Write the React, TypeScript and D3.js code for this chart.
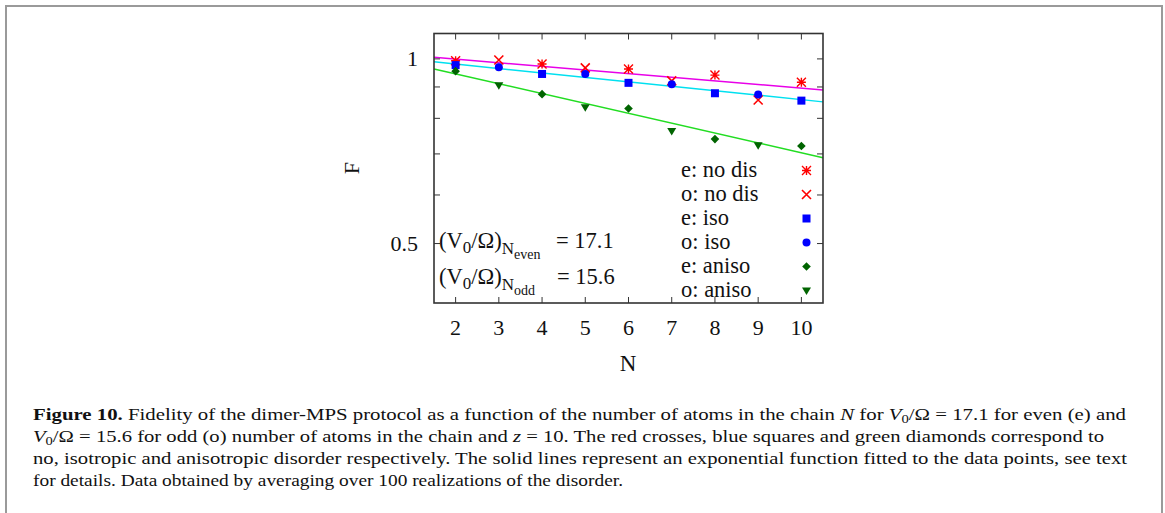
import React, { useEffect, useRef } from 'react';
import * as d3 from 'd3';

// chain lengths
const nEven = [2, 4, 6, 8, 10];
const nOdd = [3, 5, 7, 9];

// fidelity
const eNoDis = [0.993, 0.981, 0.963, 0.941, 0.916];
const oNoDis = [0.996, 0.967, 0.921, 0.857];
const eIso = [0.977, 0.945, 0.914, 0.879, 0.855];
const oIso = [0.969, 0.945, 0.909, 0.875];
const eAniso = [0.955, 0.876, 0.83, 0.74, 0.721];
const oAniso = [0.906, 0.834, 0.763, 0.723];

// exponential fits (straight on the log axis), values at the axis ends
const fitN = [1.5, 10.5];
const fitNoDis = [1.006, 0.89];
const fitIso = [0.989, 0.851];
const fitAniso = [0.963, 0.69];

const xTicks = [2, 3, 4, 5, 6, 7, 8, 9, 10];
const yTicks = [0.5, 0.6, 0.7, 0.8, 0.9, 1];
const yTickLabels = ['0.5', '', '', '', '', '1'];

const legendLabels = ['e: no dis', 'o: no dis', 'e: iso', 'o: iso', 'e: aniso', 'o: aniso'];

const RED = '#ff0000';
const BLUE = '#0000ff';
const DGREEN = '#006400';

export default function App() {
  const svgRef = useRef<SVGSVGElement>(null);

  useEffect(() => {
    if (!svgRef.current) return;
    const svg = d3.select(svgRef.current);
    svg.selectAll('*').remove();

    const serif = 'Liberation Serif';
    const left = 434, right = 823, top = 33.5, bottom = 303;

    const x = d3.scaleLinear().domain([1.5, 10.5]).range([left, right]);
    const y = d3.scaleLog().domain([0.4, 1.1]).range([bottom, top]);

    // outer figure box
    svg.append('rect').attr('x', 6).attr('y', 6).attr('width', 1156).attr('height', 540)
      .attr('fill', 'none').attr('stroke', '#9a9a9a').attr('stroke-width', 2);

    // fit lines
    const line = d3.line<[number, number]>().x(d => x(d[0])).y(d => y(d[1]));
    const fits = [
      { vals: fitNoDis, color: '#e800e8' },
      { vals: fitIso, color: '#00e0f0' },
      { vals: fitAniso, color: '#22dd22' },
    ];
    fits.forEach(f => {
      svg.append('path')
        .attr('d', line(fitN.map((n, i) => [n, f.vals[i]] as [number, number])))
        .attr('fill', 'none').attr('stroke', f.color).attr('stroke-width', 1.5);
    });

    // ticks (inward, mirrored)
    const tk = 6;
    xTicks.forEach(t => {
      svg.append('line').attr('x1', x(t)).attr('x2', x(t)).attr('y1', bottom).attr('y2', bottom - tk)
        .attr('stroke', '#333').attr('stroke-width', 1);
      svg.append('line').attr('x1', x(t)).attr('x2', x(t)).attr('y1', top).attr('y2', top + tk)
        .attr('stroke', '#333').attr('stroke-width', 1);
      svg.append('text').attr('x', x(t)).attr('y', 335).attr('text-anchor', 'middle')
        .style('font-family', serif).attr('font-size', 22).attr('fill', '#111').text(String(t));
    });
    yTicks.forEach((t, i) => {
      svg.append('line').attr('x1', left).attr('x2', left + tk).attr('y1', y(t)).attr('y2', y(t))
        .attr('stroke', '#333').attr('stroke-width', 1);
      svg.append('line').attr('x1', right).attr('x2', right - tk).attr('y1', y(t)).attr('y2', y(t))
        .attr('stroke', '#333').attr('stroke-width', 1);
      if (yTickLabels[i]) {
        svg.append('text').attr('x', 418).attr('y', y(t) + 7.5).attr('text-anchor', 'end')
          .style('font-family', serif).attr('font-size', 22).attr('fill', '#111').text(yTickLabels[i]);
      }
    });

    // frame
    svg.append('rect').attr('x', left).attr('y', top).attr('width', right - left).attr('height', bottom - top)
      .attr('fill', 'none').attr('stroke', '#333').attr('stroke-width', 1.6);

    // axis titles
    svg.append('text').attr('x', 628).attr('y', 371).attr('text-anchor', 'middle')
      .style('font-family', serif).attr('font-size', 23).attr('fill', '#111').text('N');
    svg.append('text').attr('transform', 'translate(359,168) rotate(-90)').attr('text-anchor', 'middle')
      .style('font-family', serif).attr('font-size', 22).attr('fill', '#111').text('F');

    // markers
    const marker = (type: string, cx: number, cy: number, color: string) => {
      const g = svg.append('g').attr('transform', `translate(${cx},${cy})`);
      if (type === 'star') {
        const s = 4.5;
        g.append('path').attr('d', `M${-s},0H${s}M0,${-s}V${s}M${-s},${-s}L${s},${s}M${-s},${s}L${s},${-s}`)
          .attr('stroke', color).attr('stroke-width', 1.4);
      } else if (type === 'cross') {
        const s = 4.5;
        g.append('path').attr('d', `M${-s},${-s}L${s},${s}M${-s},${s}L${s},${-s}`)
          .attr('stroke', color).attr('stroke-width', 1.6);
      } else if (type === 'square') {
        g.append('rect').attr('x', -4).attr('y', -4).attr('width', 8).attr('height', 8).attr('fill', color);
      } else if (type === 'circle') {
        g.append('circle').attr('r', 4).attr('fill', color);
      } else if (type === 'diamond') {
        g.append('path').attr('d', 'M0,-4.3L4.3,0L0,4.3L-4.3,0Z').attr('fill', color);
      } else if (type === 'tri') {
        g.append('path').attr('d', 'M-4.5,-3L4.5,-3L0,4.5Z').attr('fill', color);
      }
    };

    const series = [
      { ns: nEven, vals: eNoDis, type: 'star', color: RED },
      { ns: nOdd, vals: oNoDis, type: 'cross', color: RED },
      { ns: nEven, vals: eIso, type: 'square', color: BLUE },
      { ns: nOdd, vals: oIso, type: 'circle', color: BLUE },
      { ns: nEven, vals: eAniso, type: 'diamond', color: DGREEN },
      { ns: nOdd, vals: oAniso, type: 'tri', color: DGREEN },
    ];
    series.forEach(s => {
      s.ns.forEach((n, i) => marker(s.type, x(n), y(s.vals[i]), s.color));
    });

    // legend
    series.forEach((s, i) => {
      const by = 177 + i * 24;
      svg.append('text').attr('x', 681).attr('y', by).style('font-family', serif).attr('font-size', 22.5)
        .attr('fill', '#111').text(legendLabels[i]);
      marker(s.type, 806.5, by - 6.5, s.color);
    });

    // annotation
    const ann = (by: number, sub: string, val: string, eqX: number) => {
      const t = svg.append('text').attr('x', 439).attr('y', by).style('font-family', serif)
        .attr('font-size', 22.5).attr('fill', '#111');
      t.append('tspan').text('(V');
      t.append('tspan').attr('dy', 5).attr('font-size', 17).text('0');
      t.append('tspan').attr('dy', -5).text('/Ω)');
      t.append('tspan').attr('dy', 6).attr('font-size', 17).text('N');
      t.append('tspan').attr('dy', 5).attr('font-size', 14).text(sub);
      svg.append('text').attr('x', eqX).attr('y', by).style('font-family', serif)
        .attr('font-size', 22.5).attr('fill', '#111').text(val);
    };
    ann(248, 'even', '= 17.1', 556);
    ann(284, 'odd', '= 15.6', 557);

    // caption
    const capX = 33;
    const cap = (by: number, len: number) =>
      svg.append('text').attr('x', capX).attr('y', by).style('font-family', serif).attr('font-size', 17)
        .attr('fill', '#111').attr('textLength', len).attr('lengthAdjust', 'spacingAndGlyphs');

    const l1 = cap(420, 1093);
    l1.append('tspan').attr('font-weight', 'bold').text('Figure 10.');
    l1.append('tspan').text(' Fidelity of the dimer-MPS protocol as a function of the number of atoms in the chain ');
    l1.append('tspan').attr('font-style', 'italic').text('N');
    l1.append('tspan').text(' for ');
    l1.append('tspan').attr('font-style', 'italic').text('V');
    l1.append('tspan').attr('dy', 3).attr('font-size', 12).text('0');
    l1.append('tspan').attr('dy', -3).text('/Ω = 17.1 for even (e) and');

    const l2 = cap(442, 1071);
    l2.append('tspan').attr('font-style', 'italic').text('V');
    l2.append('tspan').attr('dy', 3).attr('font-size', 12).text('0');
    l2.append('tspan').attr('dy', -3).text('/Ω = 15.6 for odd (o) number of atoms in the chain and ');
    l2.append('tspan').attr('font-style', 'italic').text('z');
    l2.append('tspan').text(' =  10. The red crosses, blue squares and green diamonds correspond to');

    cap(464, 1094).text('no, isotropic and anisotropic disorder respectively. The solid lines represent an exponential function fitted to the data points, see text');
    cap(486, 590).text('for details. Data obtained by averaging over 100 realizations of the disorder.');
  }, []);

  return (
    <svg ref={svgRef} width={1165} height={513} viewBox="0 0 1165 513"
      style={{ position: 'absolute', left: 0, top: 0, background: '#fff' }} />
  );
}
